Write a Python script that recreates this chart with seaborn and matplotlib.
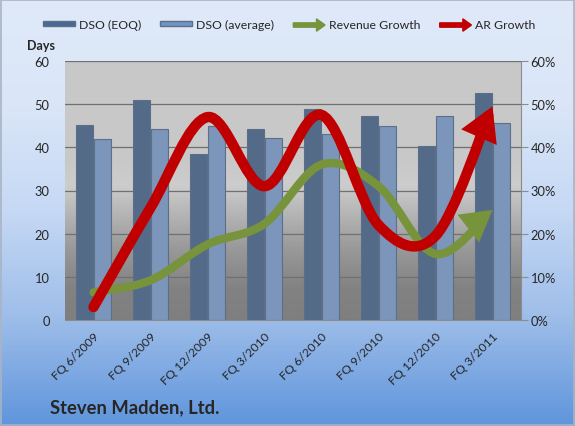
import numpy as np
import pandas as pd
import matplotlib
matplotlib.use('Agg')
import matplotlib.pyplot as plt
import matplotlib.patches as mpatches
from matplotlib.path import Path
from matplotlib.colors import LinearSegmentedColormap
from matplotlib.legend_handler import HandlerPatch
import seaborn as sns

# data
quarters = ['FQ 6/2009', 'FQ 9/2009', 'FQ 12/2009', 'FQ 3/2010',
            'FQ 6/2010', 'FQ 9/2010', 'FQ 12/2010', 'FQ 3/2011']
dso_eoq = [45.1, 50.9, 38.5, 44.2, 48.8, 47.2, 40.3, 52.6]
dso_avg = [41.9, 44.3, 45.0, 42.2, 43.1, 44.9, 47.2, 45.6]
revenue_growth = [6.4, 9.2, 17.5, 22.3, 36.0, 31.0, 15.3, 25.5]   # %
ar_growth = [3.0, 26.0, 47.0, 31.0, 47.5, 22.0, 19.5, 49.5]       # %

c_eoq = '#4a6992'
c_avg = '#7095c4'
c_rev = '#77933c'
c_ar = '#c00000'

sns.set_style('white')
plt.rcParams['font.family'] = ['Lato', 'DejaVu Sans']

fig = plt.figure(figsize=(5.75, 4.27), dpi=100)

# chart area background (light blue -> blue)
bg = fig.add_axes([0, 0, 1, 1], zorder=-5)
bg_cmap = LinearSegmentedColormap.from_list(
    'bg', [(0, '#5f95dc'), (0.25, '#9dbde9'), (0.5, '#c5d8f4'), (0.75, '#dae6f8'), (1, '#dfe9f9')])
bg.imshow(np.linspace(0, 1, 256).reshape(-1, 1), cmap=bg_cmap, origin='lower',
          aspect='auto', extent=[0, 1, 0, 1])
bg.set_axis_off()
fig.patches.append(mpatches.Rectangle((0.002, 0.002), 0.996, 0.996, transform=fig.transFigure,
                                      fill=False, ec='#a8b4c4', lw=1.2))

ax = fig.add_axes([65 / 575, 1 - 321 / 427, 456 / 575, 259 / 427])
ax.patch.set_alpha(0)

df = pd.DataFrame({'quarter': quarters * 2,
                   'series': ['DSO (EOQ)'] * 8 + ['DSO (average)'] * 8,
                   'days': dso_eoq + dso_avg})
sns.barplot(data=df, x='quarter', y='days', hue='series', palette=[c_eoq, c_avg],
            width=0.64, gap=0.06, edgecolor='#5d6f88', linewidth=0.8, ax=ax,
            legend=False, zorder=3)

ax.set_xlim(-0.5, 7.5)
ax.set_ylim(0, 60)

# plot area gradient (gray)
pa_cmap = LinearSegmentedColormap.from_list(
    'pa', [(0, '#7f7f7f'), (0.12, '#828282'), (0.28, '#9a9a9a'), (0.45, '#bdbdbd'),
           (0.52, '#cdcdcd'), (0.6, '#c9c9c9'), (1, '#c8c8c8')])
ax.imshow(np.linspace(0, 1, 256).reshape(-1, 1), cmap=pa_cmap, origin='lower',
          aspect='auto', extent=[-0.5, 7.5, 0, 60], zorder=0)
ax.set_xlim(-0.5, 7.5)
ax.set_ylim(0, 60)

ax.set_yticks(range(0, 61, 10))
ax.yaxis.grid(True, color='#707070', lw=0.9, zorder=1)
ax.set_axisbelow(True)
for ln in ax.get_ygridlines():
    ln.set_zorder(1)
ax.set_xticks(range(8))
ax.set_xticklabels(quarters, rotation=45, ha='right', rotation_mode='anchor', fontsize=8.8)
ax.set_xticks(np.arange(-0.5, 8, 1), minor=True)
ax.tick_params(axis='x', which='major', length=0, pad=7)
ax.tick_params(axis='x', which='minor', length=5, color='#8c8c8c', width=0.8)
ax.tick_params(axis='y', length=0, labelsize=9.3, pad=11)
ax.set_xlabel('')
ax.set_ylabel('')
for s in ['top', 'left', 'right']:
    ax.spines[s].set_visible(False)
ax.spines['bottom'].set_color('#8c8c8c')

# growth lines on secondary axis
ax2 = ax.twinx()
ax2.set_ylim(0, 60)
ax2.set_yticks(range(0, 61, 10))
ax2.set_yticklabels([f'{v}%' for v in range(0, 61, 10)])
ax2.tick_params(axis='y', length=5, color='#8c8c8c', width=0.8, labelsize=9.3, pad=2)
for s in ['top', 'left', 'bottom']:
    ax2.spines[s].set_visible(False)
ax2.spines['right'].set_color('#8c8c8c')


def smooth_path(ys):
    pts = np.column_stack([np.arange(len(ys)), ys]).astype(float)
    ext = np.vstack([pts[0], pts, pts[-1]])
    verts = [pts[0]]
    codes = [Path.MOVETO]
    for i in range(len(pts) - 1):
        p0, p1, p2, p3 = ext[i], ext[i + 1], ext[i + 2], ext[i + 3]
        verts += [p1 + (p2 - p0) / 6, p2 - (p3 - p1) / 6, p2]
        codes += [Path.CURVE4] * 3
    return Path(verts, codes)


for vals, col, lw, z in [(revenue_growth, c_rev, 6, 5), (ar_growth, c_ar, 7.5, 6)]:
    arr = mpatches.FancyArrowPatch(path=smooth_path(vals),
                                   arrowstyle='-|>,head_length=1.3,head_width=0.75',
                                   mutation_scale=10, color=col, lw=lw,
                                   capstyle='round', joinstyle='miter',
                                   transform=ax2.transData, zorder=z)
    ax2.add_patch(arr)


# legend
def make_arrow(legend, orig_handle, xdescent, ydescent, width, height, fontsize):
    return mpatches.FancyArrow(0, height / 2, width, 0, width=height * 0.8,
                               head_width=height * 2.3, head_length=height * 1.6,
                               length_includes_head=True)


handles = [mpatches.Patch(facecolor=c_eoq, edgecolor='#5d6f88', label='DSO (EOQ)'),
           mpatches.Patch(facecolor=c_avg, edgecolor='#5d6f88', label='DSO (average)'),
           mpatches.FancyArrow(0, 0, 1, 0, color=c_rev, label='Revenue Growth'),
           mpatches.FancyArrow(0, 0, 1, 0, color=c_ar, label='AR Growth')]
fig.legend(handles=handles, loc='center', bbox_to_anchor=(0.503, 0.941), ncol=4,
           frameon=False, fontsize=8.8, handlelength=2.6, handleheight=0.3,
           columnspacing=1.6, handletextpad=0.3,
           handler_map={mpatches.FancyArrow: HandlerPatch(patch_func=make_arrow)})

fig.text(27 / 575, 1 - 46 / 427, 'Days', fontsize=9, fontweight='bold', va='center')
fig.text(50 / 575, 1 - 408 / 427, 'Steven Madden, Ltd.', fontsize=13.2,
         fontweight='bold', va='center')

fig.savefig('out.png', dpi=100)
